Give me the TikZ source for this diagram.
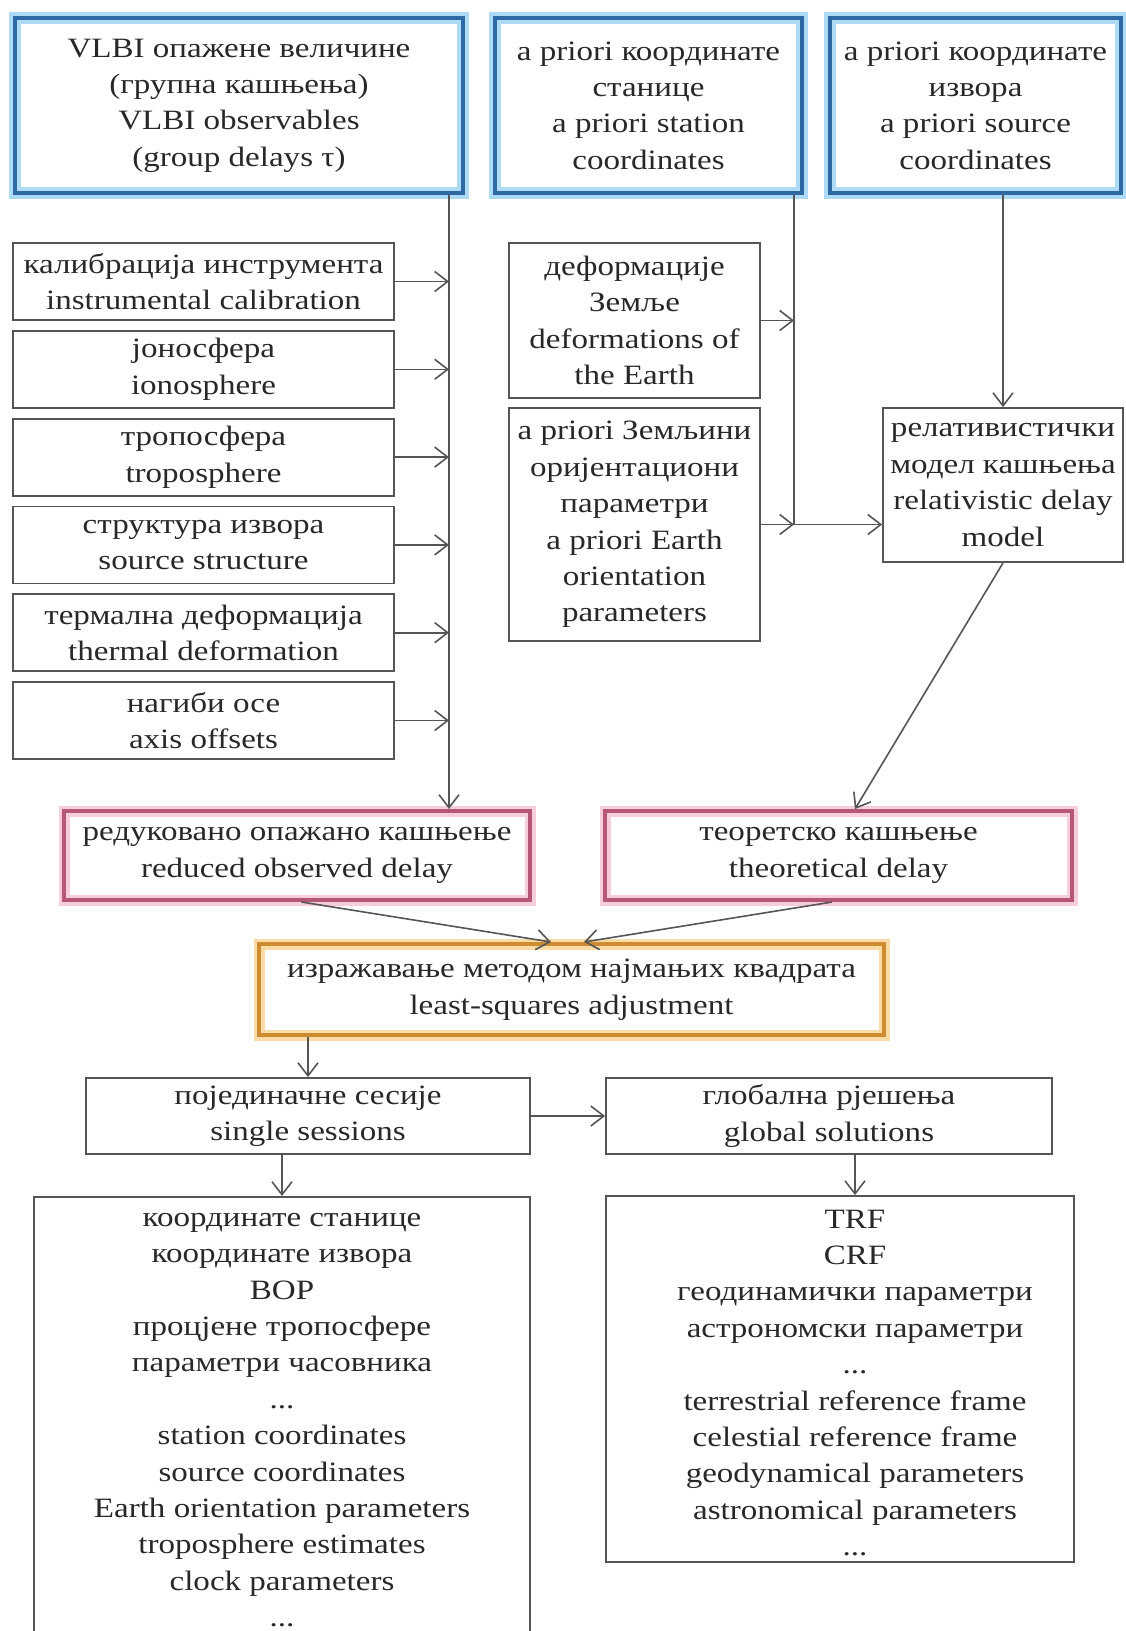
\documentclass[tikz,border=0pt]{standalone}
\usepackage{fontspec}
\setmainfont{Liberation Serif}[FakeStretch=1.18]
\usetikzlibrary{arrows.meta}
\definecolor{bluebd}{RGB}{45,105,162}
\definecolor{bluehalo}{RGB}{175,218,245}
\definecolor{pinkbd}{RGB}{180,88,118}
\definecolor{pinkhalo}{RGB}{246,205,220}
\definecolor{orbd}{RGB}{205,140,50}
\definecolor{orhalo}{RGB}{250,218,165}
\definecolor{graybd}{RGB}{85,85,85}
\definecolor{txt}{RGB}{40,40,40}
\begin{document}
\begin{tikzpicture}[x=1pt,y=-1pt,
  every node/.style={font=\fontsize{28}{36.4}\selectfont, text=txt, align=center, inner sep=0pt},
  plainbox/.style={draw=graybd, line width=1.8pt},
  bluebox/.style={draw=bluebd, line width=4.5pt, preaction={draw=bluehalo, line width=12pt}},
  pinkbox/.style={draw=pinkbd, line width=4pt, preaction={draw=pinkhalo, line width=11pt}},
  orbox/.style={draw=orbd, line width=4pt, preaction={draw=orhalo, line width=11pt}},
  ln/.style={draw=graybd, line width=1.6pt},
  arr/.style={draw=graybd, line width=1.6pt, -{Straight Barb[length=13pt,width=20pt,line width=1.6pt]}}
]
\useasboundingbox (0,0) rectangle (1126,1631);
\clip (0,0) rectangle (1126,1631);

% top row
\node[bluebox, minimum width=448, minimum height=175] (vlbi) at (239,105.5)
  {VLBI опажене величине\\(групна кашњења)\\VLBI observables\\(group delays τ)};
\node[bluebox, minimum width=307, minimum height=175] (station) at (648.5,105.5)
  {a priori координате\\станице\\a priori station\\coordinates};
\node[bluebox, minimum width=291, minimum height=175] (source) at (975.5,105.5)
  {a priori координате\\извора\\a priori source\\coordinates};

% left column of corrections
\node[plainbox, minimum width=381, minimum height=77] (calib) at (203.5,281.5)
  {калибрација инструмента\\instrumental calibration};
\node[plainbox, minimum width=381, minimum height=77] (iono) at (203.5,369.3)
  {јоносфера\\ionosphere};
\node[plainbox, minimum width=381, minimum height=77] (tropo) at (203.5,457.1)
  {тропосфера\\troposphere};
\node[plainbox, minimum width=381, minimum height=77] (srcs) at (203.5,544.9)
  {структура извора\\source structure};
\node[plainbox, minimum width=381, minimum height=77] (therm) at (203.5,632.7)
  {термална деформација\\thermal deformation};
\node[plainbox, minimum width=381, minimum height=77] (axis) at (203.5,720.5)
  {нагиби осе\\axis offsets};

% middle column
\node[plainbox, minimum width=251, minimum height=155] (deform) at (634.5,320.5)
  {деформације\\Земље\\deformations of\\the Earth};
\node[plainbox, minimum width=251, minimum height=233] (eop) at (634.5,524.5)
  {a priori Земљини\\оријентациони\\параметри\\a priori Earth\\orientation\\parameters};

% relativistic model
\node[plainbox, minimum width=240, minimum height=154] (rel) at (1003,485)
  {релативистички\\модел кашњења\\relativistic delay\\model};

% delays
\node[pinkbox, minimum width=466, minimum height=89] (red) at (297,855.5)
  {редуковано опажано кашњење\\reduced observed delay};
\node[pinkbox, minimum width=467, minimum height=89] (theo) at (838.5,855.5)
  {теоретско кашњење\\theoretical delay};

% adjustment
\node[orbox, minimum width=625, minimum height=91] (ls) at (571.5,989.5)
  {изражавање методом најмањих квадрата\\least-squares adjustment};

% sessions / solutions
\node[plainbox, minimum width=444, minimum height=76] (single) at (308,1116)
  {појединачне сесије\\single sessions};
\node[plainbox, minimum width=446, minimum height=76] (global) at (829,1116)
  {глобална рјешења\\global solutions};

% result boxes
\node[plainbox, minimum width=496, minimum height=480, anchor=north] (lbig) at (282,1196) {};
\node (lbigtxt) at (282,1420)
  {координате станице\\координате извора\\ВОР\\процјене тропосфере\\параметри часовника\\...\\station coordinates\\source coordinates\\Earth orientation parameters\\troposphere estimates\\clock parameters\\...};
\node[plainbox, minimum width=468, minimum height=366] (rbig) at (840,1379) {};
\node (rbigtxt) at (855,1383)
  {TRF\\CRF\\геодинамички параметри\\астрономски параметри\\...\\terrestrial reference frame\\celestial reference frame\\geodynamical parameters\\astronomical parameters\\...};

% helper x positions
\coordinate (vx) at (449,0);
\coordinate (sx) at (794,0);
\coordinate (tx) at (855,0);
\coordinate (ra) at (301.5,0);
\coordinate (la) at (551,0);
\coordinate (tb) at (832,0);
\coordinate (lb) at (584,0);

% connectors
\draw[arr] (vlbi.south -| vx) -- (red.north -| vx);
\foreach \n in {calib,iono,tropo,srcs,therm,axis}
  \draw[arr] (\n.east) -- (\n.east -| vx);

\draw[ln] (station.south -| sx) -- (eop.east -| sx);
\draw[arr] (deform.east) -- (deform.east -| sx);
\draw[arr] (eop.east) -- (eop.east -| sx);
\draw[arr] (eop.east -| sx) -- (eop.east -| rel.west);
\draw[arr] (source.south -| rel.north) -- (rel.north);
\draw[arr] (rel.south) -- (theo.north -| tx);

\draw[arr] (red.south -| ra) -- (ls.north -| la);
\draw[arr] (theo.south -| tb) -- (ls.north -| lb);
\draw[arr] (ls.south -| single.north) -- (single.north);
\draw[arr] (single.east) -- (global.west);
\draw[arr] (single.south -| lbig.north) -- (lbig.north);
\draw[arr] (global.south -| tx) -- (rbig.north -| tx);
\end{tikzpicture}
\end{document}
